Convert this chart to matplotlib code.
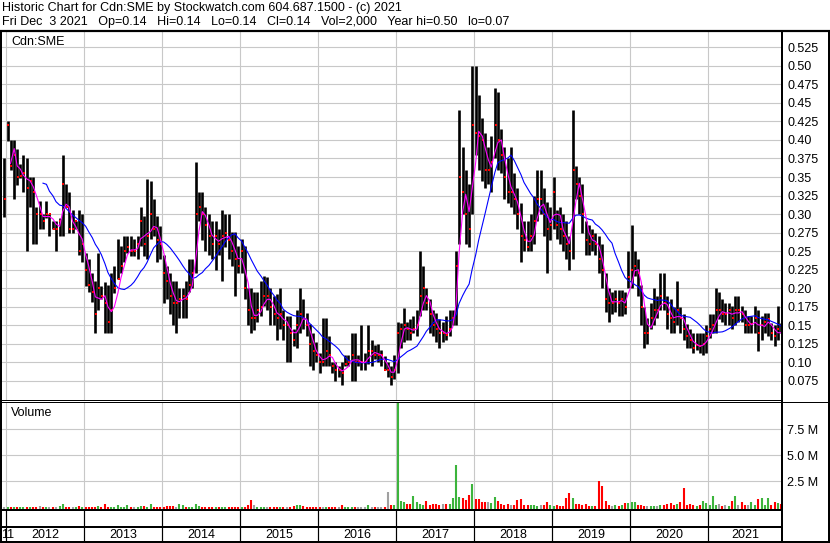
import matplotlib
matplotlib.use('Agg')
import pandas as pd
import matplotlib.pyplot as plt
import matplotlib.dates as mdates
from matplotlib.lines import Line2D
from matplotlib import transforms

plt.rcParams['font.family'] = ['Liberation Sans', 'DejaVu Sans']

# half-month bars, first one is the last half of Dec 2011
highs = [0.375,
    .426, .40, .40, .388, .368, .38, .375, .35, .35, .31, .318, .30, .318, .30, .29, .29, .295, .38, .34, .33, .305, .29, .305, .30,  # 2012
    .248, .24, .221, .21, .248, .203, .208, .205, .22, .23, .266, .257, .27, .27, .27, .266, .27, .31, .298, .347, .345, .32, .297, .284,  # 2013
    .245, .23, .22, .21, .21, .20, .20, .21, .24, .24, .37, .33, .33, .31, .30, .29, .29, .28, .305, .30, .30, .276, .276, .257,  # 2014
    .266, .257, .20, .20, .195, .195, .21, .216, .215, .20, .19, .192, .20, .17, .163, .163, .145, .17, .20, .185, .167, .152, .14, .127,  # 2015
    .113, .16, .16, .135, .10, .10, .095, .10, .11, .11, .14, .14, .11, .15, .113, .15, .13, .123, .125, .117, .108, .10, .095, .11,  # 2016
    .155, .153, .173, .155, .158, .162, .17, .25, .23, .20, .185, .17, .167, .158, .154, .162, .17, .17, .25, .44, .39, .36, .34, .50,  # 2017
    .50, .46, .43, .41, .39, .405, .47, .465, .415, .39, .375, .39, .355, .335, .315, .29, .29, .30, .325, .36, .36, .335, .316, .31,  # 2018
    .35, .305, .31, .30, .29, .27, .44, .365, .35, .34, .29, .285, .28, .275, .27, .26, .22, .20, .195, .198, .198, .198, .195, .25,  # 2019
    .285, .25, .24, .205, .175, .16, .18, .20, .19, .22, .22, .19, .185, .175, .21, .175, .165, .152, .145, .14, .14, .14, .14, .15,  # 2020
    .165, .165, .20, .195, .185, .18, .18, .176, .19, .19, .176, .17, .163, .163, .176, .17, .163, .167, .167, .153, .15, .176, .153]  # 2021
lows = [0.296,
    .399, .359, .32, .339, .349, .33, .25, .31, .26, .26, .28, .28, .295, .27, .28, .25, .27, .27, .31, .275, .275, .28, .245, .235,
    .203, .195, .181, .14, .17, .185, .14, .14, .14, .194, .212, .22, .235, .248, .244, .244, .24, .257, .244, .24, .266, .27, .235, .24,
    .18, .185, .165, .15, .14, .16, .16, .16, .195, .20, .22, .29, .265, .25, .245, .24, .225, .245, .21, .256, .24, .23, .19, .22,
    .22, .185, .15, .14, .143, .155, .163, .176, .17, .15, .15, .13, .145, .13, .10, .10, .122, .12, .14, .145, .135, .095, .09, .10,
    .086, .095, .095, .095, .086, .075, .08, .07, .095, .095, .075, .075, .095, .09, .09, .098, .095, .104, .10, .095, .09, .08, .07, .077,
    .085, .12, .127, .13, .13, .14, .135, .163, .17, .17, .14, .135, .127, .12, .127, .13, .135, .15, .15, .26, .30, .26, .255, .30,
    .38, .36, .345, .335, .34, .33, .375, .36, .355, .32, .315, .31, .30, .28, .235, .25, .25, .25, .26, .29, .30, .27, .22, .265,
    .28, .267, .26, .25, .24, .225, .24, .32, .30, .275, .245, .245, .25, .245, .22, .20, .168, .155, .165, .168, .163, .163, .165, .20,
    .20, .217, .19, .15, .12, .125, .145, .15, .16, .17, .17, .145, .14, .14, .15, .14, .13, .12, .12, .113, .117, .113, .11, .113,
    .133, .14, .14, .158, .155, .15, .15, .145, .15, .155, .155, .14, .14, .14, .14, .115, .13, .14, .135, .13, .122, .13, .14]
closes = [0.32,
    .42, .365, .38, .35, .352, .355, .335, .345, .33, .30, .30, .29, .30, .30, .28, .28, .29, .34, .31, .28, .28, .29, .25, .26,
    .225, .205, .195, .165, .20, .19, .18, .155, .17, .20, .212, .23, .25, .255, .25, .25, .26, .29, .26, .27, .30, .28, .265, .26,
    .22, .21, .19, .18, .18, .185, .19, .185, .205, .22, .30, .31, .30, .285, .27, .26, .27, .26, .27, .275, .265, .25, .24, .23,
    .25, .20, .17, .16, .16, .17, .175, .19, .19, .175, .165, .16, .165, .15, .15, .14, .13, .15, .165, .16, .15, .125, .115, .11,
    .10, .10, .115, .11, .095, .09, .09, .085, .098, .10, .11, .10, .10, .10, .10, .115, .115, .11, .11, .11, .09, .09, .08, .09,
    .14, .145, .15, .145, .14, .145, .15, .19, .20, .18, .165, .15, .145, .14, .14, .137, .145, .16, .23, .35, .33, .30, .28, .42,
    .41, .405, .40, .36, .36, .37, .42, .40, .38, .35, .33, .33, .32, .30, .27, .265, .255, .27, .29, .32, .32, .30, .28, .285,
    .33, .285, .28, .27, .26, .25, .36, .34, .325, .30, .265, .26, .27, .26, .24, .225, .185, .18, .18, .185, .18, .185, .175, .215,
    .225, .23, .22, .175, .14, .14, .16, .17, .17, .19, .18, .165, .16, .155, .17, .16, .145, .135, .13, .12, .123, .122, .125, .135,
    .145, .15, .17, .17, .165, .165, .17, .16, .17, .17, .165, .15, .15, .152, .16, .14, .15, .155, .158, .14, .135, .145, .14]
# peak daily volume in each half month, millions of shares
volumes = [0.05,
    .05, .03, .04, .05, .03, .06, .08, .05, .04, .06, .15, .05, .04, .03, .05, .04, .1, .33, .08, .05, .04, .06, .15, .08,
    .08, .06, .05, .04, .1, .05, .33, .05, .05, .05, .24, .05, .04, .24, .06, .04, .05, .1, .1, .06, .33, .05, .08, .04,
    .05, .1, .15, .15, .06, .33, .2, .05, .05, .06, .33, .15, .05, .04, .05, .05, .08, .04, .03, .05, .06, .05, .06, .04,
    .05, .04, .24, .75, .25, .05, .04, .05, .06, .05, .05, .06, .04, .03, .05, .04, .1, .24, .24, .1, .05, .04, .06, .04,
    .04, .05, .03, .04, .03, .04, .05, .24, .05, .04, .05, .04, .03, .04, .05, .24, .04, .05, .04, .05, .05, 1.5, .2, .2,
    12, .6, .5, .3, .35, 1.1, .56, .3, .2, .62, .2, .3, .3, .25, .3, .3, .3, .88, 4.1, 1.0, .9, .7, 1.2, 2.3,
    .8, .8, .55, .5, .5, .4, 1.0, .6, .3, .2, .3, .2, .25, .7, .78, .2, .25, .2, .2, .15, .2, .2, .5, .2,
    .15, .2, .1, .15, .88, 1.36, .9, .3, .3, .25, .3, .15, .1, .15, 2.55, 2.07, .6, .2, .15, .2, .1, .2, .4, .45,
    .5, .5, .2, .25, .15, .1, .1, .1, .15, .25, .25, .3, .4, .2, .3, .5, 1.84, .2, .3, .2, .15, .2, .62, .4,
    .2, 1.1, .2, .3, .15, .2, .15, .62, 1.1, .2, .55, .2, .2, .55, .2, .8, .88, .2, .88, .2, .5, .4, .3]

price_ticks = [0.075, 0.10, 0.125, 0.15, 0.175, 0.20, 0.225, 0.25, 0.275, 0.30, 0.325,
               0.35, 0.375, 0.40, 0.425, 0.45, 0.475, 0.50, 0.525]
price_labels = ['0.075', '0.10', '0.125', '0.15', '0.175', '0.20', '0.225', '0.25', '0.275', '0.30',
                '0.325', '0.35', '0.375', '0.40', '0.425', '0.45', '0.475', '0.50', '0.525']
vol_ticks = [2.5, 5.0, 7.5]
vol_labels = ['2.5 M', '5.0 M', '7.5 M']
years = list(range(2012, 2022))

header1 = 'Historic Chart for Cdn:SME by Stockwatch.com 604.687.1500 - (c) 2021'
header2 = ('Fri Dec  3 2021   Op=0.14   Hi=0.14   Lo=0.14   Cl=0.14   Vol=2,000   '
           'Year hi=0.50   lo=0.07')

W, H = 830, 543


def box(l, t, r, b):
    return [l / W, 1 - b / H, (r - l) / W, (b - t) / H]


def line(x0, y0, x1, y1, lw=1.0):
    fig.add_artist(Line2D([x0 / W, x1 / W], [1 - y0 / H, 1 - y1 / H], color='black',
                          lw=lw * 0.72, transform=fig.transFigure, solid_capstyle='butt'))


df = pd.DataFrame({'high': highs, 'low': lows, 'close': closes, 'vol': volumes})
df['date'] = pd.date_range('2011-12-15', periods=len(df), freq='SMS') + pd.Timedelta(days=7)
x = mdates.date2num(df['date'])
ma_short = df['close'].rolling(3).mean()
ma_long = df['close'].rolling(13).mean()
chg = df['close'].diff().fillna(0)
vol_colors = ['#3cb43c' if c > 1e-9 else '#ff0000' if c < -1e-9 else '#a0a0a0' for c in chg]

fig = plt.figure(figsize=(W / 100, H / 100), dpi=100)
ax = fig.add_axes(box(2, 31.5, 782, 400))
axv = fig.add_axes(box(2, 402, 782, 509))

xlim = mdates.date2num(pd.to_datetime(['2011-12-13', '2021-12-12']))
year_x = mdates.date2num(pd.to_datetime([f'{y}-01-01' for y in years]))
grid_kw = dict(color='#c8c8c8', lw=0.8, zorder=0)

for a in (ax, axv):
    a.set_xlim(*xlim)
    for s in a.spines.values():
        s.set_visible(False)
    a.set_xticks([])
    for yx in year_x:
        a.axvline(yx, **grid_kw)
    a.yaxis.tick_right()
    a.tick_params(axis='y', length=0, pad=3.6, labelsize=9)

# price panel
ax.set_ylim(0.0492, 0.5463)
ax.set_yticks(price_ticks, labels=price_labels)
for p in price_ticks:
    ax.axhline(p, **grid_kw)
ax.vlines(x, df['low'], df['high'], color='black', lw=1.9, zorder=2)
ax.plot(x + 3, df['close'], 's', color='#ff0000', ms=2.0, mew=0, zorder=3)
ax.plot(x, ma_long, color='#0000ff', lw=0.8, zorder=4)
ax.plot(x, ma_short, color='#ff00ff', lw=0.8, zorder=5)
ax.text(9 / 780, 1 - 10.2 / 368.5, 'Cdn:SME', transform=ax.transAxes, fontsize=9, va='center')

# volume panel
vlo, vhi = -0.144, 10.14
axv.set_ylim(vlo, vhi)
axv.set_yticks(vol_ticks, labels=vol_labels)
for v in vol_ticks:
    axv.axhline(v, **grid_kw)
axv.vlines(x, vlo, df['vol'], colors=vol_colors, lw=1.5, zorder=2)
axv.text(9 / 780, 1 - 11 / 107, 'Volume', transform=axv.transAxes, fontsize=9, va='center')

# header
fig.text(2 / W, 1 - 8.3 / H, header1, fontsize=9, va='center')
fig.text(2 / W, 1 - 22 / H, header2, fontsize=9, va='center')

# year strip
tr = transforms.blended_transform_factory(axv.transData, fig.transFigure)
edges = list(year_x) + [mdates.date2num(pd.Timestamp('2022-01-01'))]
for i, y in enumerate(years):
    mid = min((edges[i] + edges[i + 1]) / 2, (edges[i] + xlim[1]) / 2)
    fig.text(mid, 1 - 534.5 / H, str(y), transform=tr, fontsize=9, ha='center', va='center')
fig.text(1 / W, 1 - 534.5 / H, '11', fontsize=9, ha='left', va='center')
for yx in year_x:
    px = 2 + (yx - xlim[0]) / (xlim[1] - xlim[0]) * 780
    line(px, 509, px, 541, 1.2)

# frame
line(0, 30.5, W, 30.5, 2.2)
line(0, 399.5, 782, 399.5, 1)
line(0, 401.5, W, 401.5, 1)
line(0, 509.5, 782, 509.5, 2)
line(0, 527, 782, 527, 2)
line(0, 542, W, 542, 2)
line(1, 30, 1, H, 2)
line(782, 30, 782, H, 2)
line(829, 30, 829, H, 2)

fig.savefig('out.png', dpi=100)
